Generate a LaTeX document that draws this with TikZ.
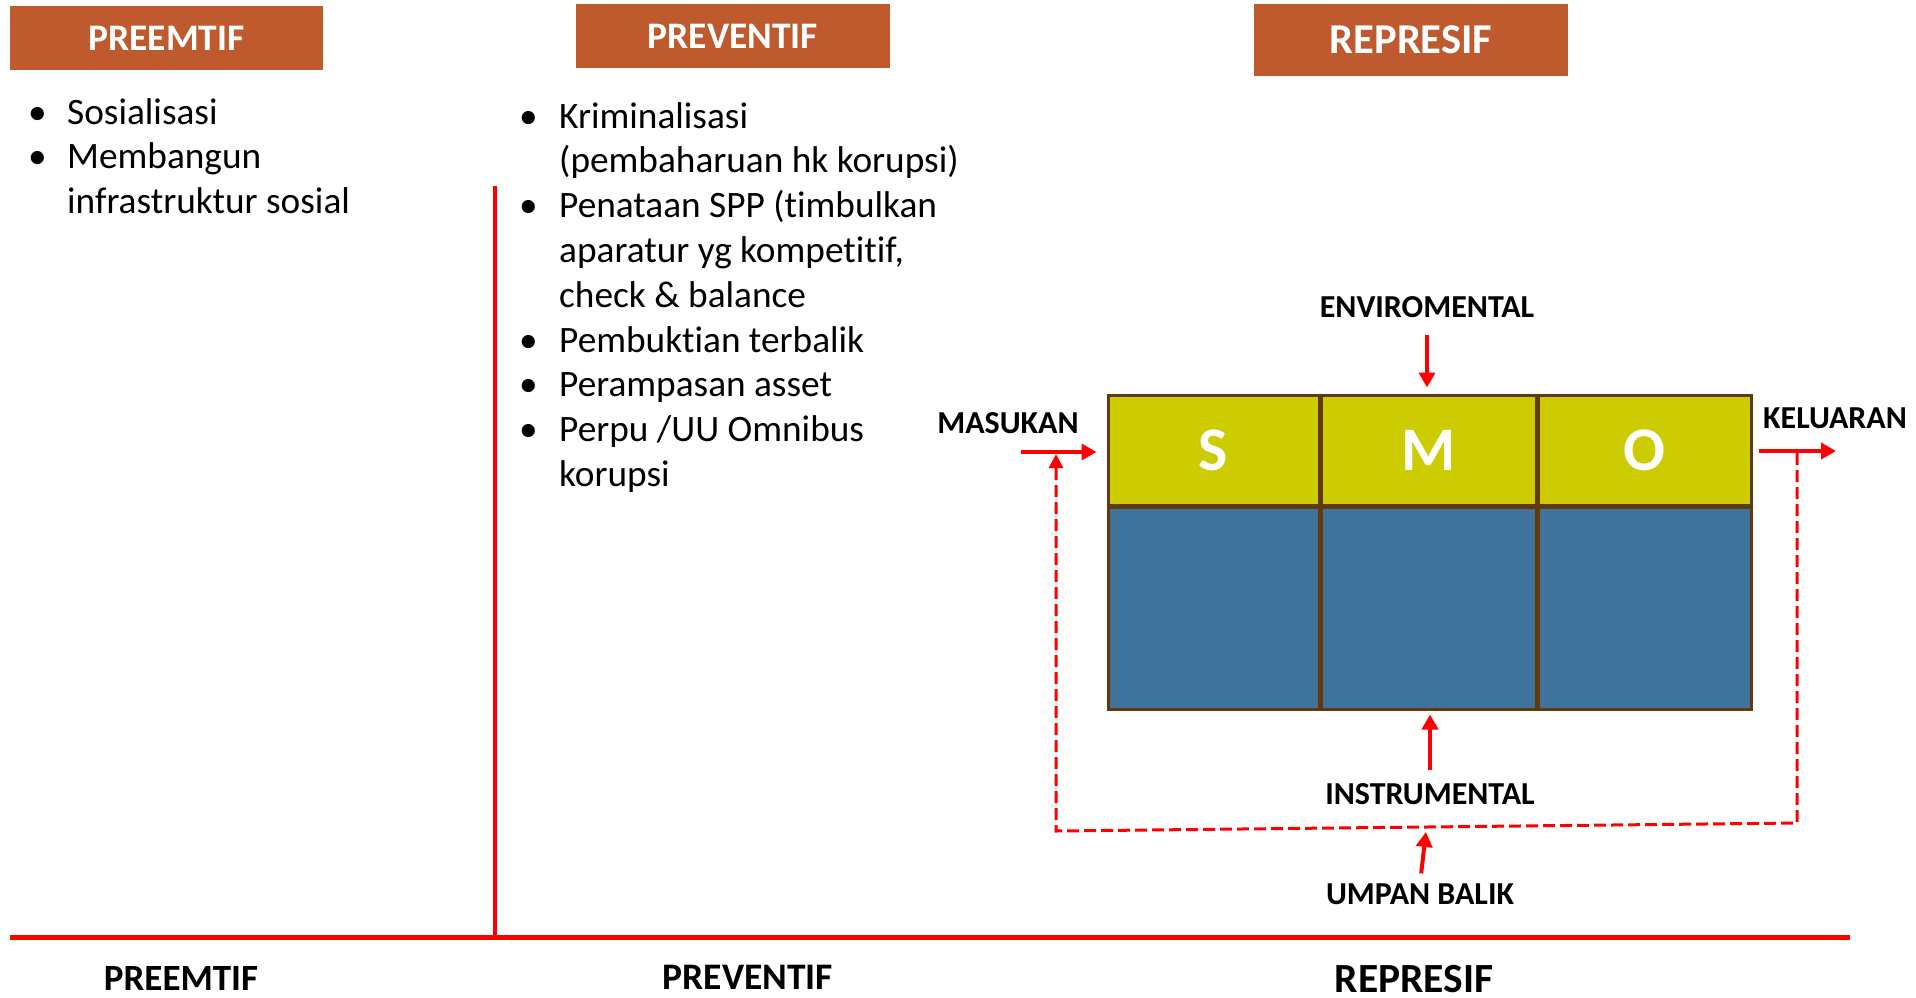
\documentclass[tikz,border=0pt]{standalone}
\usepackage{fontspec}
\setmainfont{Carlito}[Ligatures=NoCommon]
\usepackage{tikz}
\usetikzlibrary{arrows.meta,calc}
\definecolor{headorange}{HTML}{BE5A2D}
\definecolor{smoyellow}{HTML}{CCCC00}
\definecolor{smoblue}{HTML}{40739B}
\definecolor{smobrown}{HTML}{603A0C}
\newcommand{\BulletMark}{\textbullet}
\tikzset{
    >=Stealth,
    headbox/.style={fill=headorange,text=white,inner sep=0pt,minimum width=313bp,minimum height=64bp,font=\fontsize{37.5bp}{42bp}\selectfont\bfseries},
    listtext/.style={inner sep=0pt,anchor=base west,font=\fontsize{37.3bp}{44.8bp}\selectfont},
    flowlabel/.style={inner sep=0pt,font=\fontsize{32bp}{36bp}\selectfont\bfseries},
    baselabel/.style={inner sep=0pt,font=\fontsize{37bp}{42bp}\selectfont\bfseries},
    smotop/.style={draw=smobrown,line width=3bp,fill=smoyellow,text=white,minimum height=110bp,font=\fontsize{62bp}{70bp}\selectfont\bfseries},
    smobottom/.style={draw=smobrown,line width=3bp,fill=smoblue,minimum height=202bp},
    flowarrow/.style={red,line width=4bp,-{Triangle[length=15bp,width=16bp]}},
    feedback/.style={red,line width=3bp,dash pattern=on 12bp off 5bp},
    axisline/.style={red,line width=5bp},
}
\begin{document}
\begin{tikzpicture}[x=1bp,y=-1bp]
   	\useasboundingbox (0,0) rectangle (1916,997);

   	% heading boxes
   	\node[headbox] (headpreemtif) at (166.5,38) {PREEMTIF};
   	\node[headbox,minimum width=314bp] (headpreventif) at (733,36) {PREVENTIF};
   	\node[headbox,minimum width=314bp,minimum height=72bp,font=\fontsize{42.5bp}{46bp}\selectfont\bfseries] (headrepresif) at (1411,40) {REPRESIF};

   	% lists
   	\node[listtext] (listpreemtif) at (28,124) {
	\begin{tabular}[t]{@{}p{39bp}@{}l@{}}
	      \BulletMark & Sosialisasi \\
	      \BulletMark & Membangun \\
	                  & infrastruktur sosial \\
	\end{tabular}
	};
   	\node[listtext] (listpreventif) at (519,128) {
	\begin{tabular}[t]{@{}p{40bp}@{}l@{}}
	      \BulletMark & Kriminalisasi \\
	                  & (pembaharuan hk korupsi) \\
	      \BulletMark & Penataan SPP (timbulkan \\
	                  & aparatur yg kompetitif, \\
	                  & check \& balance \\
	      \BulletMark & Pembuktian terbalik \\
	      \BulletMark & Perampasan asset \\
	      \BulletMark & Perpu /UU Omnibus \\
	                  & korupsi \\
	\end{tabular}
	};

   	% axes
   	\coordinate (axisleft) at (10,937);
   	\coordinate (axisright) at (1850,937);
   	\coordinate (axistop) at (495,186);
   	\draw[axisline] (axisleft) -- (axisright);
   	\draw[red,line width=4bp] (axistop) -- (axistop |- axisleft);

   	\node[baselabel] (basepreemtif) at (181,978) {PREEMTIF};
   	\node[baselabel,font=\fontsize{37.5bp}{42bp}\selectfont\bfseries] (basepreventif) at (748,977) {PREVENTIF};
   	\node[baselabel,font=\fontsize{41.5bp}{46bp}\selectfont\bfseries] (baserepresif) at (1414,979) {REPRESIF};

   	% S M O blocks
   	\foreach \cell/\cx/\cellw in {S/1213.5/211,M/1428.5/215,O/1644.5/213} {
   	    \node[smotop,minimum width=\cellw bp] (top\cell) at (\cx,450) {\cell};
   	    \node[smobottom,minimum width=\cellw bp] (bot\cell) at (\cx,608) {};
   	}

   	\node[flowlabel] (envlabel) at (1427,307) {ENVIROMENTAL};
   	\node[flowlabel] (inlabel) at (1008,423) {MASUKAN};
   	\node[flowlabel] (outlabel) at (1835,418) {KELUARAN};
   	\node[flowlabel] (instlabel) at (1430,794) {INSTRUMENTAL};
   	\node[flowlabel] (fblabel) at (1420,894) {UMPAN BALIK};

   	\coordinate (instart) at (1021,452);
   	\coordinate (outend) at (1836,451);
   	\draw[flowarrow,shorten <=17bp,shorten >=6bp] (envlabel.south) -- (envlabel.south |- topM.north);
   	\draw[flowarrow,shorten >=10bp] (instart) -- (instart -| topS.west);
   	\draw[flowarrow,shorten <=6bp] (topO.east |- outend) -- (outend);
   	\draw[flowarrow,shorten <=13bp,shorten >=4bp] (instlabel.north) -- (instlabel.north |- botM.south);

   	% feedback loop
   	\coordinate (fbtop) at (1797,453);
   	\coordinate (fbright) at (1797,823);
   	\coordinate (fbleft) at (1056,831);
   	\coordinate (fbend) at (1056,454);
   	\coordinate (fbmid) at ($(fbleft)!0.5!(fbright)$);
   	\draw[feedback,-{Triangle[length=14bp,width=14bp]}] (fbtop) -- (fbright) -- (fbleft) -- (fbend);
   	\draw[flowarrow,shorten <=10bp,shorten >=5bp] (fblabel.north) -- (fbmid);

\end{tikzpicture}
\end{document}
